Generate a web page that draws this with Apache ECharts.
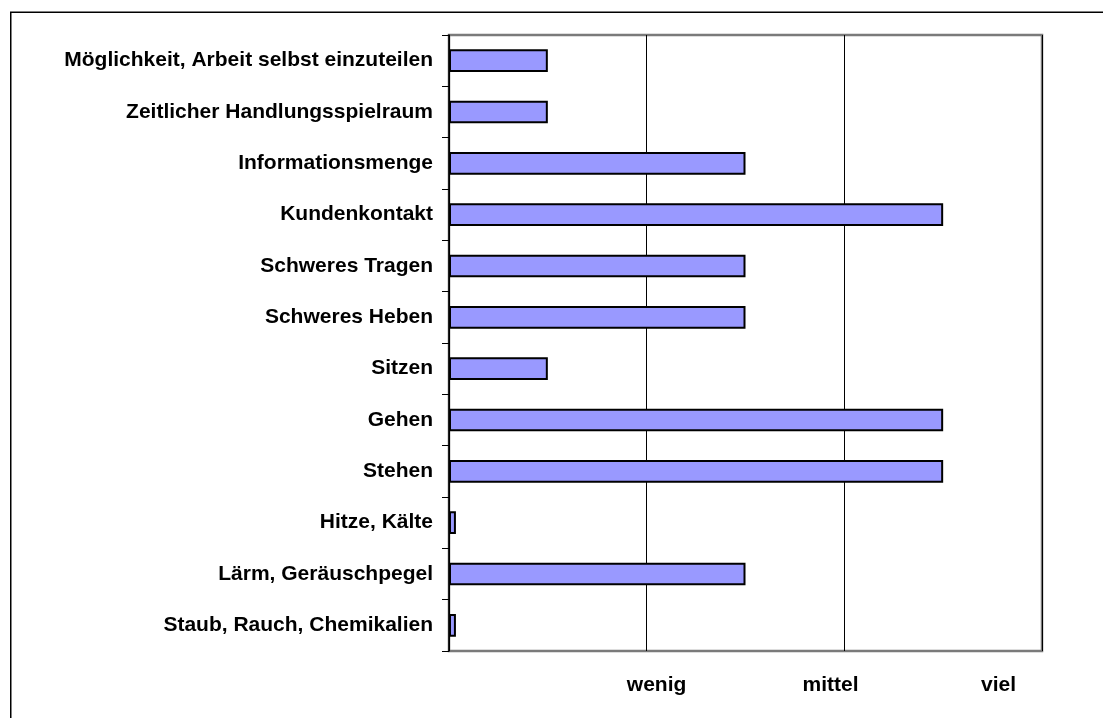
<!DOCTYPE html>
<html>
<head>
<meta charset="utf-8">
<script src="https://cdn.jsdelivr.net/npm/echarts@6/dist/echarts.min.js"></script>
<style>
  html, body { margin: 0; padding: 0; background: #fff; }
  #chart { width: 1103px; height: 718px; }
</style>
</head>
<body>
<div id="chart"></div>
<script>
// Workload factors, listed top to bottom
const categories = [
  'Möglichkeit, Arbeit selbst einzuteilen',
  'Zeitlicher Handlungsspielraum',
  'Informationsmenge',
  'Kundenkontakt',
  'Schweres Tragen',
  'Schweres Heben',
  'Sitzen',
  'Gehen',
  'Stehen',
  'Hitze, Kälte',
  'Lärm, Geräuschpegel',
  'Staub, Rauch, Chemikalien'
];

// Rating on the 0..3 scale
const values = [0.5, 0.5, 1.5, 2.5, 1.5, 1.5, 0.5, 2.5, 2.5, 0.035, 1.5, 0.035];

// Scale words under the value axis
const scaleLabels = ['wenig', 'mittel', 'viel'];
const scaleLabelAt = [1.05, 1.93, 2.78];

const FONT = '"Liberation Sans", Arial, sans-serif';

const chart = echarts.init(document.getElementById('chart'), null, { renderer: 'canvas' });

chart.setOption({
  animation: false,
  backgroundColor: '#ffffff',
  graphic: [{
    type: 'rect',
    shape: { x: 10.75, y: 12.25, width: 1200, height: 800 },
    style: { fill: 'none', stroke: '#000', lineWidth: 1.5 },
    silent: true
  }],
  grid: {
    left: 449, right: 61, top: 35, bottom: 67,
    show: true, borderColor: '#7a7a7a', borderWidth: 2.5, backgroundColor: 'transparent'
  },
  xAxis: [{
    type: 'value', min: 0, max: 3, interval: 1,
    axisLine: { show: false },
    axisTick: { show: false },
    axisLabel: { show: false },
    splitLine: { show: true, lineStyle: { color: '#000', width: 1 } }
  }, {
    type: 'value', min: 0, max: 3, position: 'bottom',
    axisLine: { show: false },
    axisTick: { show: false },
    splitLine: { show: false },
    axisLabel: {
      show: true,
      customValues: scaleLabelAt,
      formatter: function (v) {
        const i = scaleLabelAt.indexOf(v);
        return i >= 0 ? scaleLabels[i] : '';
      },
      margin: 24,
      color: '#000', fontFamily: FONT, fontWeight: 'bold', fontSize: 21
    }
  }],
  yAxis: {
    type: 'category',
    data: categories,
    inverse: true,
    axisLine: { show: true, lineStyle: { color: '#000', width: 1.5 } },
    axisTick: { show: true, length: 7, lineStyle: { color: '#000', width: 1 } },
    axisLabel: {
      margin: 16, color: '#000', fontFamily: FONT, fontWeight: 'bold', fontSize: 21
    },
    splitLine: { show: false }
  },
  series: [{
    type: 'bar',
    xAxisIndex: 0,
    data: values,
    barCategoryGap: '56%',
    itemStyle: { color: '#9999FF', borderColor: '#000', borderWidth: 2 }
  }]
});
</script>
</body>
</html>
